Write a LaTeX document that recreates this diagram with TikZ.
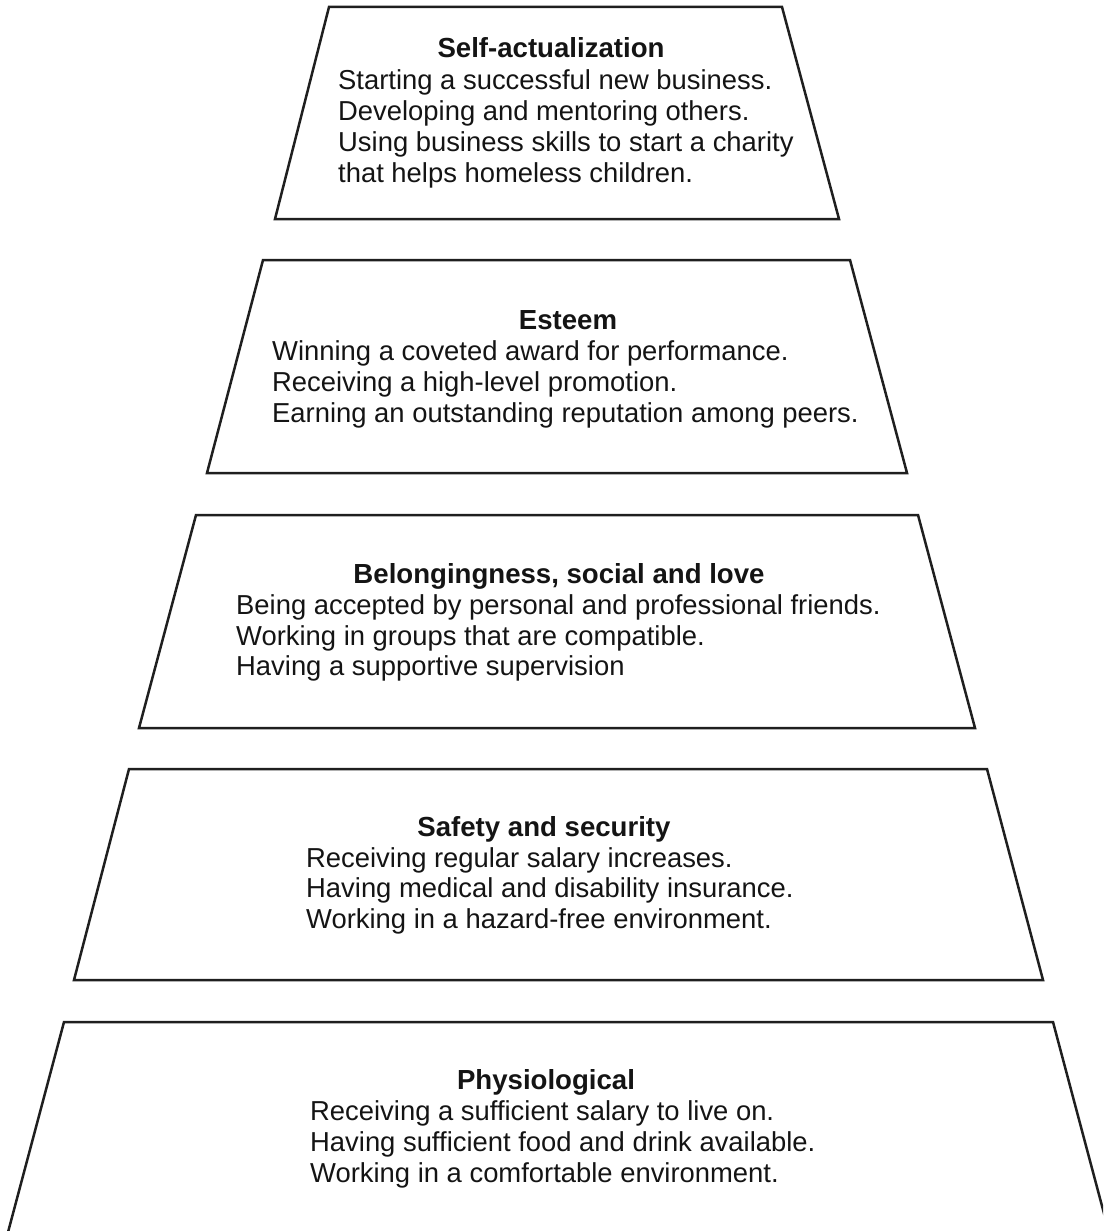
\documentclass[tikz,border=0pt]{standalone}
\usepackage{fontspec}
\setmainfont{Liberation Sans}
\begin{document}
\begin{tikzpicture}[x=1pt,y=-1pt,
  level/.style={draw=black!88, line width=2.5pt, line join=miter},
  head/.style={font=\fontsize{27.6}{31}\selectfont\bfseries, anchor=base, inner sep=0pt, text=black!92},
  body/.style={font=\fontsize{27.4}{31}\selectfont, anchor=base west, inner sep=0pt, text=black!92}]
\useasboundingbox (0,0) rectangle (1103,1231);
\clip (0,0) rectangle (1103,1231);
% level 1
\draw[level] (329,7) -- (782,7) -- (839,219) -- (275,219) -- cycle;
\node[head] (h1) at (551,58) {Self-actualization};
\node[body] (b1a) at (338,89) {Starting a successful new business.};
\node[body] (b1b) at (338,120) {Developing and mentoring others.};
\node[body] (b1c) at (338,151) {Using business skills to start a charity};
\node[body] (b1d) at (338,182) {that helps homeless children.};
% level 2
\draw[level] (263,260) -- (850,260) -- (907,473) -- (207,473) -- cycle;
\node[head] (h2) at (568,329) {Esteem};
\node[body] (b2a) at (272,360) {Winning a coveted award for performance.};
\node[body] (b2b) at (272,391) {Receiving a high-level promotion.};
\node[body] (b2c) at (272,422) {Earning an outstanding reputation among peers.};
% level 3
\draw[level] (196,515) -- (918,515) -- (975,728) -- (139,728) -- cycle;
\node[head] (h3) at (559,583) {Belongingness, social and love};
\node[body] (b3a) at (236,614) {Being accepted by personal and professional friends.};
\node[body] (b3b) at (236,645) {Working in groups that are compatible.};
\node[body] (b3c) at (236,675) {Having a supportive supervision};
% level 4
\draw[level] (129,769) -- (987,769) -- (1043,980) -- (74,980) -- cycle;
\node[head] (h4) at (544,836) {Safety and security};
\node[body] (b4a) at (306,867) {Receiving regular salary increases.};
\node[body] (b4b) at (306,897) {Having medical and disability insurance.};
\node[body] (b4c) at (306,928) {Working in a hazard-free environment.};
% level 5
\draw[level] (64,1022) -- (1053,1022) -- (1110,1236) -- (7,1236) -- cycle;
\node[head] (h5) at (546,1089) {Physiological};
\node[body] (b5a) at (310,1120) {Receiving a sufficient salary to live on.};
\node[body] (b5b) at (310,1151) {Having sufficient food and drink available.};
\node[body] (b5c) at (310,1182) {Working in a comfortable environment.};
\end{tikzpicture}
\end{document}
